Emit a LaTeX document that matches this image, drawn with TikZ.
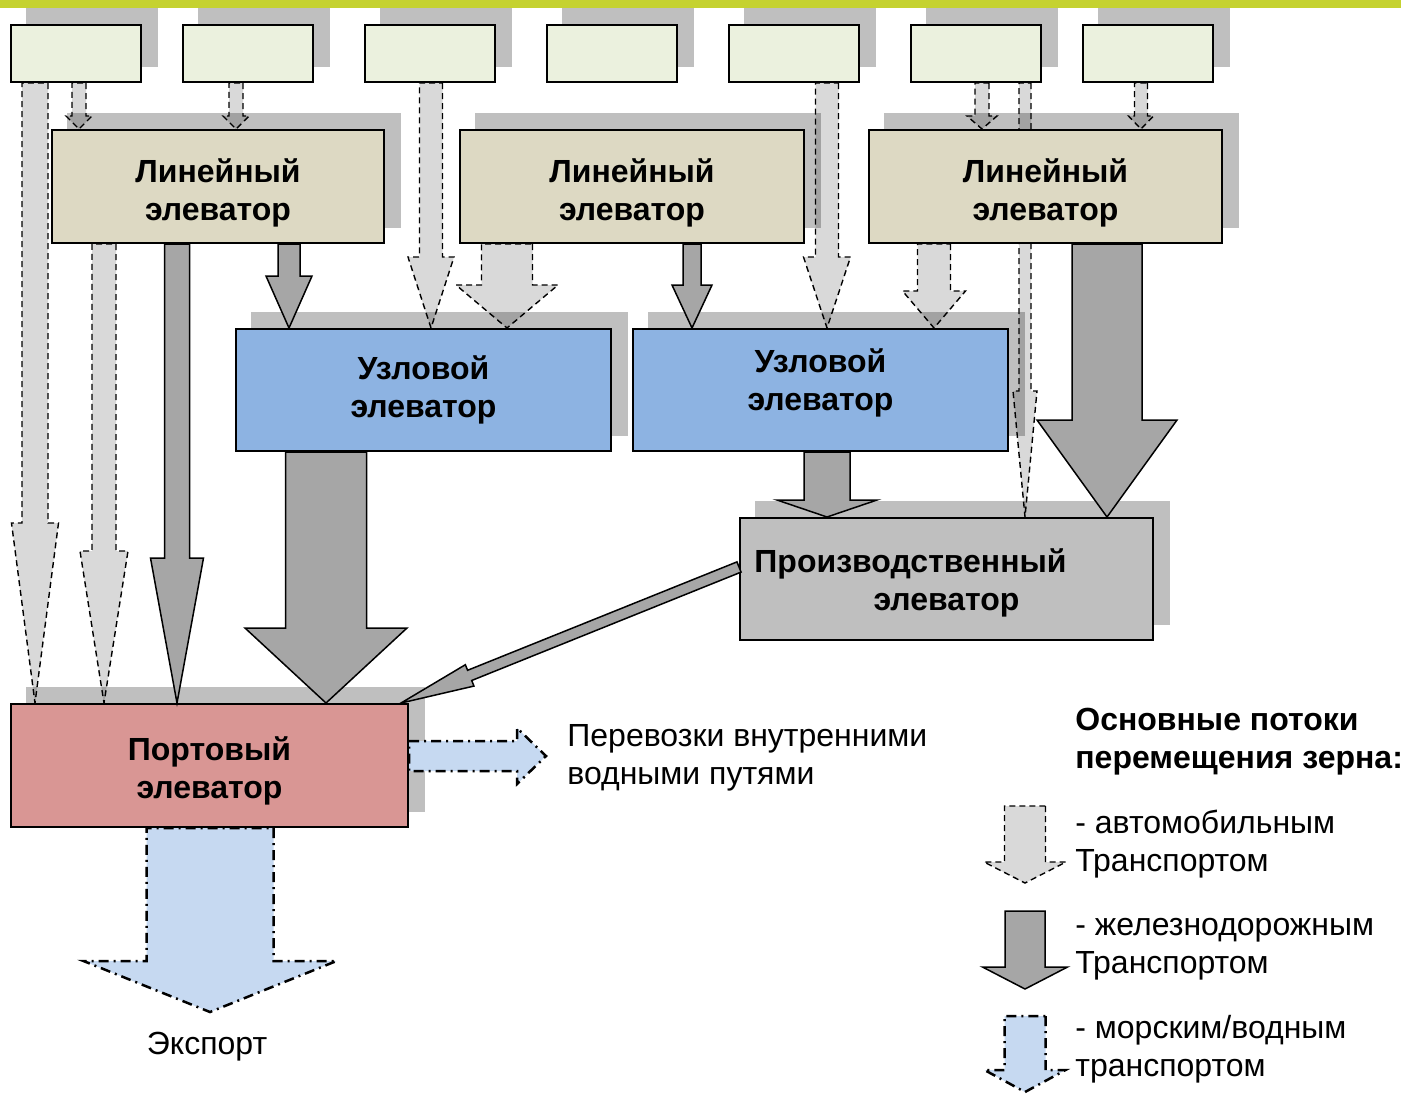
\documentclass[tikz,border=0pt]{standalone}
\usepackage{fontspec}
\setmainfont{Liberation Sans}
\usetikzlibrary{calc}

\definecolor{topgreen}{RGB}{197,210,48}
\definecolor{topfill}{RGB}{235,241,222}
\definecolor{linfill}{RGB}{221,217,195}
\definecolor{hubfill}{RGB}{141,179,226}
\definecolor{prodfill}{RGB}{191,191,191}
\definecolor{portfill}{RGB}{217,150,148}
\definecolor{roadgray}{RGB}{217,217,217}
\definecolor{railgray}{RGB}{166,166,166}
\definecolor{waterblue}{RGB}{198,217,241}

\pgfdeclarelayer{back}
\pgfdeclarelayer{shade}
\pgfsetlayers{back,shade,main}

% block arrow: style, start, tip, shaft half width, head half width, head length (px)
\newcommand\flowarrow[6][]{%
  \coordinate (hb) at ($(#3)!#6*0.5pt!(#2)$);
  \draw[#1] ($(#2)!#4*0.5pt!90:(#3)$) -- ($(hb)!#4*0.5pt!90:(#3)$)
    -- ($(hb)!#5*0.5pt!90:(#3)$) -- (#3)
    -- ($(hb)!#5*0.5pt!-90:(#3)$) -- ($(hb)!#4*0.5pt!-90:(#3)$)
    -- ($(#2)!#4*0.5pt!-90:(#3)$) -- cycle;}
% vertical block arrow from one box down to another at a given x
\newcommand\vflow[7][]{%
  \coordinate (fs) at (#4,0 |- #2.south);
  \coordinate (ft) at (#4,0 |- #3.north);
  \flowarrow[#1]{fs}{ft}{#5}{#6}{#7}}
% nudge box text down (push) or up (sink)
\newcommand\push[1]{\raisebox{#1}{\vphantom{й}}}
\newcommand\sink[1]{\raisebox{-#1}{\vphantom{р}}}

\begin{document}
\begin{tikzpicture}[x=0.5pt, y=-0.5pt,
    font=\fontsize{16pt}{19pt}\selectfont,
    elev/.style={draw, line width=1pt, inner sep=0pt, align=center,
      font=\fontsize{16pt}{19pt}\selectfont\bfseries},
    topbox/.style={elev, fill=topfill, minimum width=65pt, minimum height=28.5pt},
    linbox/.style={elev, fill=linfill, minimum height=56.5pt},
    hubbox/.style={elev, fill=hubfill, minimum width=187.5pt, minimum height=61pt},
    prodbox/.style={elev, fill=prodfill, minimum width=206.5pt, minimum height=61pt},
    portbox/.style={elev, fill=portfill, minimum width=198.5pt, minimum height=61.5pt},
    boxshade/.style={fill=black, fill opacity=0.25},
    roadflow/.style={draw, fill=roadgray, line width=0.7pt, dash pattern=on 3pt off 2pt},
    railflow/.style={draw, fill=railgray, line width=0.75pt},
    waterflow/.style={draw, fill=waterblue, line width=1.25pt,
      dash pattern=on 5pt off 2.5pt on 1pt off 2.5pt},
    txt/.style={inner sep=0pt, align=left}]
  \useasboundingbox (0,0) rectangle (1401,1093);
  \fill[topgreen] (0,0) rectangle (1401,8);

  \node (Top1) [topbox] at (76,53.5)     {};
  \node (Top2) [topbox] at (247.5,53.5)  {};
  \node (Top3) [topbox] at (429.5,53.5)  {};
  \node (Top4) [topbox] at (611.5,53.5)  {};
  \node (Top5) [topbox] at (793.5,53.5)  {};
  \node (Top6) [topbox] at (975.5,53.5)  {};
  \node (Top7) [topbox] at (1147.5,53.5) {};

  \node (Lin1) [linbox, minimum width=166pt]   at (218,186.5)    {\push{6pt}Линейный\\элеватор};
  \node (Lin2) [linbox, minimum width=172pt]   at (632,186.5)    {\push{6pt}Линейный\\элеватор};
  \node (Lin3) [linbox, minimum width=176.5pt] at (1045.5,186.5) {\push{6pt}Линейный\\элеватор};
  \node (Hub1) [hubbox] at (423.5,390) {Узловой\\элеватор};
  \node (Hub2) [hubbox] at (820.5,390) {Узловой\\элеватор\sink{7pt}};
  \node (Prod) [prodbox] at (946.5,579) {\push{4pt}Производственный\hspace*{36pt}\\элеватор};
  \node (Port) [portbox] at (209.5,765.5) {\push{5pt}Портовый\\элеватор};

  \node (River)    [txt, anchor=west] at (567,758)  {Перевозки внутренними\\водными путями};
  \node (Export)   [txt]              at (207,1047) {Экспорт};
  \node (KeyTitle) [txt, anchor=west, font=\fontsize{16pt}{19pt}\selectfont\bfseries]
                                      at (1075,742) {Основные потоки\\перемещения зерна:};
  \node (KeyRoad)  [txt, anchor=west] at (1075,844)  {- автомобильным\\Транспортом};
  \node (KeyRail)  [txt, anchor=west] at (1075,949)  {- железнодорожным\\Транспортом};
  \node (KeyWater) [txt, anchor=west] at (1075,1049) {- морским/водным\\транспортом};

  \begin{pgfonlayer}{shade}
    \foreach \n in {Top1,Top2,Top3,Top4,Top5,Top6,Top7,Lin1,Lin2,Lin3,Hub1,Hub2,Prod,Port}
      \fill[boxshade] ([shift={(16,-16)}]\n.south west) rectangle ([shift={(16,-16)}]\n.north east);
  \end{pgfonlayer}

  \begin{pgfonlayer}{back}
    \vflow[roadflow]{Top1}{Port}{35}{13}{23.5}{180}
    \vflow[roadflow]{Top1}{Lin1}{79}{7}{13}{13}
    \vflow[roadflow]{Top2}{Lin1}{236}{7}{13}{13}
    \vflow[roadflow]{Lin1}{Port}{104}{12}{24}{152}
    \vflow[roadflow]{Top3}{Hub1}{431}{11.5}{23}{71}
    \vflow[roadflow]{Lin2}{Hub1}{507}{25.5}{51}{43}
    \vflow[roadflow]{Top5}{Hub2}{827}{11.5}{23.5}{71}
    \vflow[roadflow]{Lin3}{Hub2}{934}{16.5}{31.5}{37}
    \vflow[roadflow]{Top6}{Lin3}{982}{7}{15}{13}
    \vflow[roadflow]{Top6}{Prod}{1025}{6}{12}{126}
    \vflow[roadflow]{Top7}{Lin3}{1141}{6.5}{12.5}{13}
  \end{pgfonlayer}

  \vflow[railflow]{Lin1}{Port}{177}{12.5}{26.5}{145}
  \vflow[railflow]{Lin1}{Hub1}{289}{11}{23}{52}
  \vflow[railflow]{Lin2}{Hub2}{692}{9}{20}{43}
  \vflow[railflow]{Lin3}{Prod}{1107}{35}{70}{97}
  \vflow[railflow]{Hub2}{Prod}{827}{23}{50}{17}
  \vflow[railflow]{Hub1}{Port}{326}{40.5}{81}{75}
  \coordinate (DiagS) at ($(Prod.west)+(0,-12)$);
  \coordinate (DiagT) at ($(Port.north east)+(-8,0)$);
  \flowarrow[railflow]{DiagS}{DiagT}{5.5}{11.5}{74}

  \coordinate (RiverS) at (Port.east |- 0,756);
  \coordinate (RiverT) at (546,756);
  \flowarrow[waterflow]{RiverS}{RiverT}{15}{28}{29}
  \coordinate (ExportS) at (210,0 |- Port.south);
  \coordinate (ExportT) at (210,1012);
  \flowarrow[waterflow]{ExportS}{ExportT}{63.5}{126.5}{51}

  \coordinate (KeyRoadS) at (1025,806);
  \coordinate (KeyRoadT) at (1025,883);
  \flowarrow[roadflow]{KeyRoadS}{KeyRoadT}{20.5}{41}{21}
  \coordinate (KeyRailS) at (1025,911);
  \coordinate (KeyRailT) at (1025,989);
  \flowarrow[railflow]{KeyRailS}{KeyRailT}{20}{42.5}{22}
  \coordinate (KeyWaterS) at (1025,1016);
  \coordinate (KeyWaterT) at (1025,1092);
  \flowarrow[waterflow]{KeyWaterS}{KeyWaterT}{20.5}{40.5}{22}
\end{tikzpicture}
\end{document}
